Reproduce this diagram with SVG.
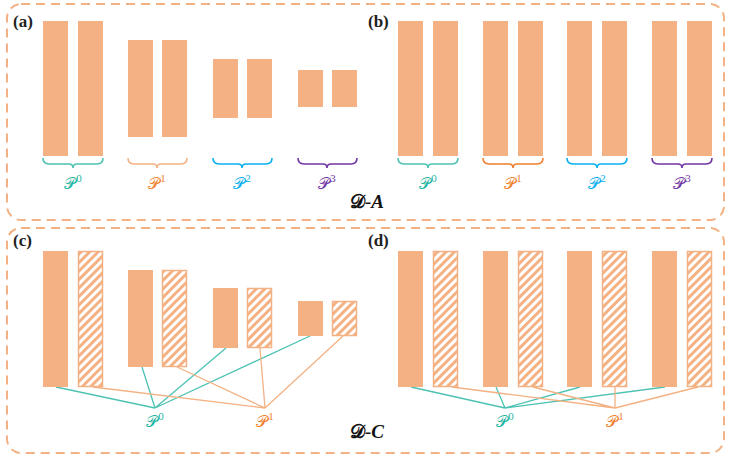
<svg xmlns="http://www.w3.org/2000/svg" width="729" height="461" viewBox="0 0 729 461">
<defs>
<pattern id="hatch" patternUnits="userSpaceOnUse" width="6" height="6" patternTransform="rotate(45)">
<rect width="6" height="6" fill="#fff"/>
<line x1="1.5" y1="0" x2="1.5" y2="6" stroke="#F4B183" stroke-width="3"/>
</pattern>
<style>
.panel{fill:none;stroke:#F4B183;stroke-width:2;stroke-dasharray:9 6}
.bar{fill:#F4B183}
.hbar{fill:url(#hatch);stroke:#F4B183;stroke-width:1.5}
.lbl{font-family:"Liberation Serif",serif;font-weight:bold;font-size:17px;fill:#222}
.brace{fill:none;stroke-width:1.6}
.p{font-family:"DejaVu Sans","Liberation Serif",serif;font-size:16px;text-anchor:middle}
.sup{font-family:"Liberation Serif",serif;font-size:11px}
.d{font-family:"DejaVu Serif","Liberation Serif",serif;font-weight:bold;font-size:19px;fill:#111;text-anchor:middle}
.t{stroke:#4DC2B2;stroke-width:1.3;fill:none}
.o{stroke:#F4B183;stroke-width:1.3;fill:none}
.c0{fill:#1FB5A2}.c1{fill:#F07F2E}.c2{fill:#0AB0EE}.c3{fill:#7236A5}
</style>
</defs>
<rect class="panel" x="7" y="4" width="717" height="216" rx="14"/>
<rect class="panel" x="7" y="228" width="717" height="225" rx="14"/>
<text class="lbl" x="13" y="27">(a)</text>
<text class="lbl" x="368" y="27">(b)</text>
<text class="lbl" x="13" y="246">(c)</text>
<text class="lbl" x="368" y="246">(d)</text>

<g id="a-P0"><rect class="bar" x="43" y="21" width="25" height="135"/><rect class="bar" x="78" y="21" width="25" height="135"/>
<path class="brace" stroke="#4DC2B2" d="M43,158 Q43,164 49,164 L69,164 Q73,164 73,168 Q73,164 77,164 L97,164 Q103,164 103,158"/>
<text class="p c0" x="73" y="189">𝒫<tspan class="sup" dy="-7">0</tspan></text></g>
<g id="a-P1"><rect class="bar" x="128" y="40" width="25" height="97"/><rect class="bar" x="162" y="40" width="25" height="97"/>
<path class="brace" stroke="#F4B183" d="M128,158 Q128,164 134,164 L153,164 Q157,164 157,168 Q157,164 161,164 L181,164 Q187,164 187,158"/>
<text class="p c1" x="157" y="189">𝒫<tspan class="sup" dy="-7">1</tspan></text></g>
<g id="a-P2"><rect class="bar" x="213" y="59" width="25" height="59"/><rect class="bar" x="247" y="59" width="25" height="59"/>
<path class="brace" stroke="#0AB0EE" d="M213,158 Q213,164 219,164 L238,164 Q242,164 242,168 Q242,164 246,164 L266,164 Q272,164 272,158"/>
<text class="p c2" x="242" y="189">𝒫<tspan class="sup" dy="-7">2</tspan></text></g>
<g id="a-P3"><rect class="bar" x="298" y="70" width="25" height="37"/><rect class="bar" x="332" y="70" width="25" height="37"/>
<path class="brace" stroke="#7236A5" d="M298,158 Q298,164 304,164 L323,164 Q327,164 327,168 Q327,164 331,164 L351,164 Q357,164 357,158"/>
<text class="p c3" x="327" y="189">𝒫<tspan class="sup" dy="-7">3</tspan></text></g>

<g id="b-P0"><rect class="bar" x="398" y="21" width="25" height="135"/><rect class="bar" x="433" y="21" width="25" height="135"/>
<path class="brace" stroke="#4DC2B2" d="M398,158 Q398,164 404,164 L424,164 Q428,164 428,168 Q428,164 432,164 L452,164 Q458,164 458,158"/>
<text class="p c0" x="428" y="189">𝒫<tspan class="sup" dy="-7">0</tspan></text></g>
<g id="b-P1"><rect class="bar" x="483" y="21" width="25" height="135"/><rect class="bar" x="518" y="21" width="25" height="135"/>
<path class="brace" stroke="#F07F2E" d="M483,158 Q483,164 489,164 L509,164 Q513,164 513,168 Q513,164 517,164 L537,164 Q543,164 543,158"/>
<text class="p c1" x="513" y="189">𝒫<tspan class="sup" dy="-7">1</tspan></text></g>
<g id="b-P2"><rect class="bar" x="567" y="21" width="25" height="135"/><rect class="bar" x="602" y="21" width="25" height="135"/>
<path class="brace" stroke="#0AB0EE" d="M567,158 Q567,164 573,164 L593,164 Q597,164 597,168 Q597,164 601,164 L621,164 Q627,164 627,158"/>
<text class="p c2" x="597" y="189">𝒫<tspan class="sup" dy="-7">2</tspan></text></g>
<g id="b-P3"><rect class="bar" x="652" y="21" width="25" height="135"/><rect class="bar" x="687" y="21" width="25" height="135"/>
<path class="brace" stroke="#7236A5" d="M652,158 Q652,164 658,164 L678,164 Q682,164 682,168 Q682,164 686,164 L706,164 Q712,164 712,158"/>
<text class="p c3" x="682" y="189">𝒫<tspan class="sup" dy="-7">3</tspan></text></g>

<text class="d" x="367" y="208">𝒟<tspan font-family="Liberation Serif" font-style="italic">-A</tspan></text>
<text class="d" x="367" y="438">𝒟<tspan font-family="Liberation Serif" font-style="italic">-C</tspan></text>

<g id="connectors">
<path class="t" d="M56,387 L155,408 M142,367 L155,408 M226,348 L155,408 M310,336 L155,408"/>
<path class="o" d="M93,387 L265,408 M177,367 L265,408 M260,348 L265,408 M343,336 L265,408"/>
<path class="t" d="M411,387 L505,408 M496,387 L505,408 M580,387 L505,408 M665,387 L505,408"/>
<path class="o" d="M452,387 L615,408 M533,387 L615,408 M615,387 L615,408 M698,387 L615,408"/>
</g>

<g id="c-bars">
<rect class="bar" x="43" y="251" width="25" height="136"/><rect class="hbar" x="78.5" y="251.5" width="24" height="135"/>
<rect class="bar" x="128" y="270" width="25" height="97"/><rect class="hbar" x="162.5" y="270.5" width="24" height="96"/>
<rect class="bar" x="213" y="288" width="25" height="60"/><rect class="hbar" x="247.5" y="288.5" width="24" height="59"/>
<rect class="bar" x="298" y="301" width="25" height="35"/><rect class="hbar" x="332.5" y="301.5" width="24" height="34"/>
</g>
<g id="c-P0"><text class="p c0" x="155" y="427">𝒫<tspan class="sup" dy="-7">0</tspan></text></g>
<g id="c-P1"><text class="p c1" x="265" y="427">𝒫<tspan class="sup" dy="-7">1</tspan></text></g>

<g id="d-bars">
<rect class="bar" x="398" y="251" width="25" height="136"/><rect class="hbar" x="433.5" y="251.5" width="24" height="135"/>
<rect class="bar" x="483" y="251" width="25" height="136"/><rect class="hbar" x="518.5" y="251.5" width="24" height="135"/>
<rect class="bar" x="567" y="251" width="25" height="136"/><rect class="hbar" x="602.5" y="251.5" width="24" height="135"/>
<rect class="bar" x="652" y="251" width="25" height="136"/><rect class="hbar" x="687.5" y="251.5" width="24" height="135"/>
</g>
<g id="d-P0"><text class="p c0" x="505" y="427">𝒫<tspan class="sup" dy="-7">0</tspan></text></g>
<g id="d-P1"><text class="p c1" x="615" y="427">𝒫<tspan class="sup" dy="-7">1</tspan></text></g>
</svg>
